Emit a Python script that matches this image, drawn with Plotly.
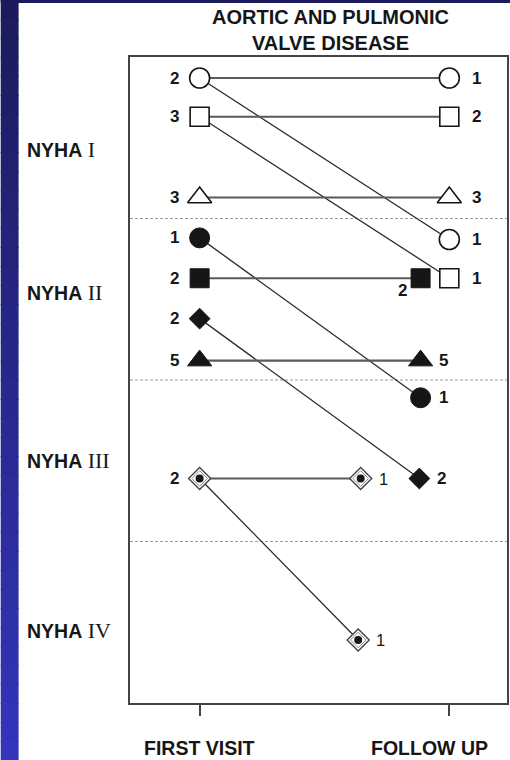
import plotly.graph_objects as go

# ---------------- data ----------------
GROUPS = ["open circle", "open square", "open triangle", "filled circle",
          "filled square", "filled diamond", "filled triangle", "dotted diamond"]
# position on the NYHA class scale (class I = 1 ... class IV = 4)
FIRST_VISIT_Y = [0.63, 0.87, 1.37, 1.62, 1.87, 2.12, 2.38, 3.11]
FIRST_VISIT_N = [2, 3, 3, 1, 2, 2, 5, 2]

FOLLOW_GROUP = [0, 0, 1, 1, 2, 3, 4, 5, 6, 7, 7]
FOLLOW_X = [1.0, 1.0, 1.0, 1.0, 1.0, 0.885, 0.885, 0.88, 0.885, 0.645, 0.635]
FOLLOW_Y = [0.63, 1.63, 0.87, 1.87, 1.37, 2.61, 1.87, 3.11, 2.38, 3.11, 4.11]
FOLLOW_N = [1, 1, 2, 1, 3, 1, 2, 2, 5, 1, 1]

CLASS_LABELS = ["I", "II", "III", "IV"]
CLASS_LABEL_Y = [1.07, 1.96, 3.0, 4.05]
CLASS_BOUNDARIES = [1.5, 2.5, 3.5]
TIME_TICKS = [0, 1]
TIME_LABELS = ["FIRST VISIT", "FOLLOW UP"]
TITLE = "AORTIC AND PULMONIC<br>VALVE DISEASE"

# ---------------- styles ----------------
INK = "#161616"
STYLE = {
    "open circle":     dict(symbol="circle", size=20, color="white", line=INK, lw=1.6),
    "open square":     dict(symbol="square", size=19, color="white", line=INK, lw=1.6),
    "open triangle":   dict(symbol="triangle-up", size=21, color="white", line=INK, lw=1.6),
    "filled circle":   dict(symbol="circle", size=20, color=INK, line=INK, lw=1),
    "filled square":   dict(symbol="square", size=19, color=INK, line=INK, lw=1),
    "filled diamond":  dict(symbol="diamond", size=16, color=INK, line=INK, lw=1),
    "filled triangle": dict(symbol="triangle-up", size=21, color=INK, line=INK, lw=1),
    "dotted diamond":  dict(symbol="diamond", size=17, color="white", line="#444", lw=1.4),
}

W, H = 510, 760
ML, MR, MT, MB = 130, 1, 57, 57
PW, PH = W - ML - MR, H - MT - MB


def px_x(px):
    return (px - ML) / PW


def px_y(py):
    return (H - MB - py) / PH


fig = go.Figure()

# connecting lines
for k, g in enumerate(FOLLOW_GROUP):
    y0, y1 = FIRST_VISIT_Y[g], FOLLOW_Y[k]
    horiz = abs(y0 - y1) < 1e-9
    fig.add_trace(go.Scatter(
        x=[0, FOLLOW_X[k]], y=[y0, y1], mode="lines",
        line=dict(color="#5a5a5a" if horiz else "#2a2a2a", width=2.2 if horiz else 1.3),
        hoverinfo="skip", showlegend=False))

# markers
for g, name in enumerate(GROUPS):
    st = STYLE[name]
    xs = [0] + [FOLLOW_X[k] for k, gg in enumerate(FOLLOW_GROUP) if gg == g]
    ys = [FIRST_VISIT_Y[g]] + [FOLLOW_Y[k] for k, gg in enumerate(FOLLOW_GROUP) if gg == g]
    fig.add_trace(go.Scatter(
        x=xs, y=ys, mode="markers", name=name,
        marker=dict(symbol=st["symbol"], size=st["size"], color=st["color"],
                    line=dict(color=st["line"], width=st["lw"])),
        hoverinfo="skip", showlegend=False))
    if name == "dotted diamond":
        fig.add_trace(go.Scatter(
            x=xs, y=ys, mode="markers",
            marker=dict(symbol="diamond-open", size=12, color="#8a8a8a", line=dict(width=1)),
            hoverinfo="skip", showlegend=False))
        fig.add_trace(go.Scatter(
            x=xs, y=ys, mode="markers",
            marker=dict(symbol="circle", size=8, color=INK, line=dict(width=0)),
            hoverinfo="skip", showlegend=False))

annotations = []
# counts at first visit
for g, name in enumerate(GROUPS):
    annotations.append(dict(x=0, y=FIRST_VISIT_Y[g], xref="x", yref="y",
                            text=str(FIRST_VISIT_N[g]), showarrow=False,
                            xanchor="right", yanchor="middle", xshift=-19,
                            font=dict(family="Arial, Liberation Sans", size=17,
                                      color=INK, weight="bold")))
# counts at follow-up
for k, g in enumerate(FOLLOW_GROUP):
    x, y = FOLLOW_X[k], FOLLOW_Y[k]
    blocked = any(abs(FOLLOW_Y[j] - y) < 1e-9 and 0 < FOLLOW_X[j] - x < 0.15
                  for j in range(len(FOLLOW_X)) if j != k)
    bold = GROUPS[g] != "dotted diamond"
    font = dict(family="Arial, Liberation Sans", size=17 if bold else 16.5,
                color=INK, weight="bold" if bold else "normal")
    if blocked:
        annotations.append(dict(x=x, y=y, xref="x", yref="y", text=str(FOLLOW_N[k]),
                                showarrow=False, xanchor="center", yanchor="middle",
                                xshift=-18, yshift=-12, font=font))
    else:
        annotations.append(dict(x=x, y=y, xref="x", yref="y", text=str(FOLLOW_N[k]),
                                showarrow=False, xanchor="left", yanchor="middle",
                                xshift=21 if x >= 1 else 16, font=font))

# NYHA class labels
for lab, yv in zip(CLASS_LABELS, CLASS_LABEL_Y):
    annotations.append(dict(
        x=px_x(24), y=yv, xref="paper", yref="y", xanchor="left", yanchor="middle",
        showarrow=False,
        text="<b>NYHA</b> <span style='font-family:Liberation Serif;font-size:22px'>%s</span>" % lab,
        font=dict(family="Arial, Liberation Sans", size=19.5, color=INK)))

# time labels
for i, (tv, lab) in enumerate(zip(TIME_TICKS, TIME_LABELS)):
    annotations.append(dict(
        x=tv, y=px_y(748), xref="x", yref="paper", xanchor="center", yanchor="middle",
        showarrow=False, text=lab, xshift=-20 if i == len(TIME_TICKS) - 1 else 0,
        font=dict(family="Arial, Liberation Sans", size=19.5, color=INK, weight="bold")))

# title
annotations.append(dict(
    x=px_x(332), y=px_y(30.5), xref="paper", yref="paper", xanchor="center",
    yanchor="middle", showarrow=False, text=TITLE,
    font=dict(family="Arial, Liberation Sans", size=20, color=INK, weight="bold")))

shapes = []
# class boundaries
for b in CLASS_BOUNDARIES:
    shapes.append(dict(type="line", xref="paper", yref="y", x0=0, x1=1, y0=b, y1=b,
                       line=dict(color="#9a9a9a", width=1, dash="3px,2px"), layer="below"))

# blue slide frame (gradient strip on the left, thin band on top)
N = 40
c0, c1 = (0x1b, 0x1b, 0x5c), (0x34, 0x34, 0xbc)
for i in range(N):
    t = i / (N - 1)
    col = "rgb(%d,%d,%d)" % tuple(round(a + (b - a) * t) for a, b in zip(c0, c1))
    shapes.append(dict(type="rect", xref="paper", yref="paper",
                       x0=px_x(0), x1=px_x(18), y0=px_y(H * i / N), y1=px_y(H * (i + 1) / N + 1),
                       fillcolor=col, line=dict(width=0), layer="above"))
shapes.append(dict(type="rect", xref="paper", yref="paper", x0=px_x(0), x1=px_x(W + 2),
                   y0=px_y(0), y1=px_y(3), fillcolor="rgb(27,27,92)", line=dict(width=0),
                   layer="above"))

fig.update_layout(
    width=W, height=H, margin=dict(l=ML, r=MR, t=MT, b=MB),
    paper_bgcolor="white", plot_bgcolor="white",
    annotations=annotations, shapes=shapes, showlegend=False,
    xaxis=dict(range=[(ML - 200) / 251, (ML + PW - 200) / 251], tickvals=TIME_TICKS,
               showticklabels=False, ticks="outside", ticklen=11, tickwidth=1.5,
               tickcolor="#444", showline=True, linecolor="#444", linewidth=1.5,
               mirror=True, showgrid=False, zeroline=False, fixedrange=True),
    yaxis=dict(range=[4.5, 0.5], showticklabels=False, ticks="", showline=True,
               linecolor="#444", linewidth=1.5, mirror=True, showgrid=False,
               zeroline=False, fixedrange=True),
)

fig.write_html("out.html", config={"displayModeBar": False},
               post_script="document.body.style.margin='0';document.body.style.padding='0';"
                           "document.documentElement.style.overflow='hidden';")
